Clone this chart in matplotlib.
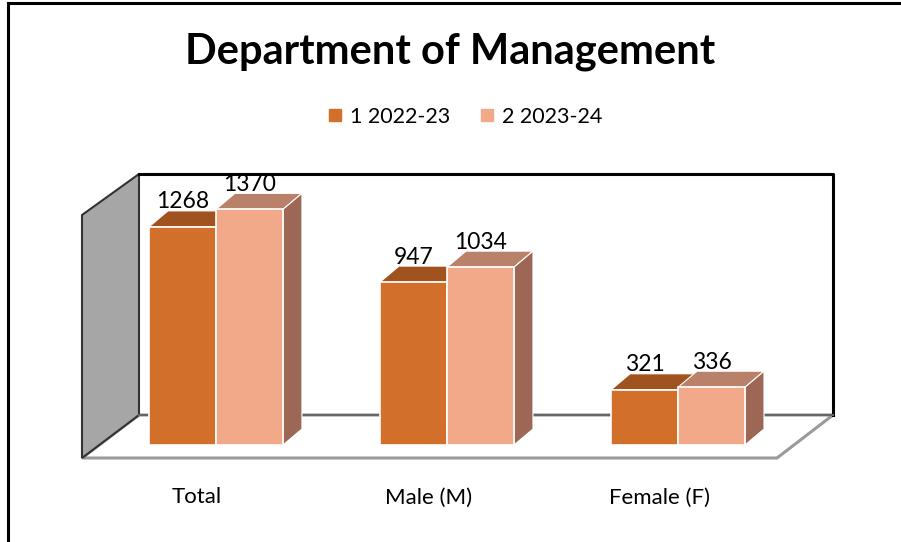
import matplotlib.pyplot as plt
import numpy as np
from matplotlib.patches import Polygon
from matplotlib.lines import Line2D

plt.rcParams['font.family'] = ['Lato', 'DejaVu Sans']

categories = ['Total', 'Male (M)', 'Female (F)']
series_names = ['1 2022-23', '2 2023-24']
values_2022 = [1268, 947, 321]
values_2023 = [1370, 1034, 336]

# colours: front, top, side
col1 = ('#D2702B', '#A0531F', '#8A4A1E')
col2 = ('#F2A98A', '#B9806A', '#9C6755')

W, H = 901, 542
fig = plt.figure(figsize=(W / 100, H / 100), dpi=100)

def fx(px):
    return px / W

def fy(py):
    return 1 - py / H

# outer border
fig.add_artist(Line2D([fx(8), fx(8)], [fy(3), fy(542)], color='black', lw=2.2, zorder=-1))
fig.add_artist(Line2D([fx(8), fx(901)], [fy(3), fy(3)], color='black', lw=2.2, zorder=-1))

# 3d frame: floor, left wall, back wall (behind the data axes)
floor = Polygon([(fx(82), fy(458)), (fx(777), fy(458)), (fx(833), fy(415)), (fx(139), fy(415))],
                closed=True, facecolor='white', edgecolor='#9a9a9a', lw=2.2,
                transform=fig.transFigure, zorder=-2)
fig.add_artist(floor)
left_wall = Polygon([(fx(82), fy(215)), (fx(139), fy(174)), (fx(139), fy(415)), (fx(82), fy(458))],
                    closed=True, facecolor='#A6A6A6', edgecolor='#333333', lw=1.5,
                    transform=fig.transFigure, zorder=-1)
fig.add_artist(left_wall)
fig.add_artist(Line2D([fx(139), fx(833), fx(833)], [fy(174), fy(174), fy(415)],
                      color='black', lw=2.2, zorder=-1))
fig.add_artist(Line2D([fx(139), fx(833)], [fy(415), fy(415)], color='#666666', lw=1.5, zorder=-1))

# data axes covering the figure
ax = fig.add_axes([0, 0, 1, 1])
ax.set_xlim(-0.935, 2.965)
ax.set_ylim(-564, 2587)
ax.axis('off')
ax.patch.set_alpha(0)

x = np.arange(len(categories))
bw = 0.29
dx, dy = 0.082, 93

def bar3d(xc, vals, cols):
    ax.bar(xc, vals, bw, color=cols[0], edgecolor='white', lw=1.2, zorder=3)
    for xi, v in zip(xc, vals):
        l, r = xi - bw / 2, xi + bw / 2
        top = Polygon([(l, v), (l + dx, v + dy), (r + dx, v + dy), (r, v)], closed=True,
                      facecolor=cols[1], edgecolor='white', lw=0.8, zorder=2)
        side = Polygon([(r, 0), (r + dx, dy), (r + dx, v + dy), (r, v)], closed=True,
                       facecolor=cols[2], edgecolor='white', lw=0.8, zorder=2)
        ax.add_patch(top)
        ax.add_patch(side)
        ax.text(xi, v + 145, str(v), ha='center', va='center', fontsize=16.5, zorder=5)

bar3d(x - bw / 2, values_2022, col1)
bar3d(x + bw / 2, values_2023, col2)

for xi, c in zip(x, categories):
    ax.text(xi - 0.082, -305, c, ha='center', va='center', fontsize=16)

fig.text(0.5, fy(52), 'Department of Management', ha='center', va='center',
         fontsize=30, fontweight='bold')

handles = [Line2D([], [], marker='s', ls='none', color=col1[0], markersize=8),
           Line2D([], [], marker='s', ls='none', color=col2[0], markersize=8)]
fig.legend(handles, series_names, loc='center', bbox_to_anchor=(fx(464), fy(117)), ncol=2,
           frameon=False, fontsize=15.5, handletextpad=0.3, columnspacing=1.3,
           handlelength=0.8)

fig.savefig('out.png', dpi=100)
